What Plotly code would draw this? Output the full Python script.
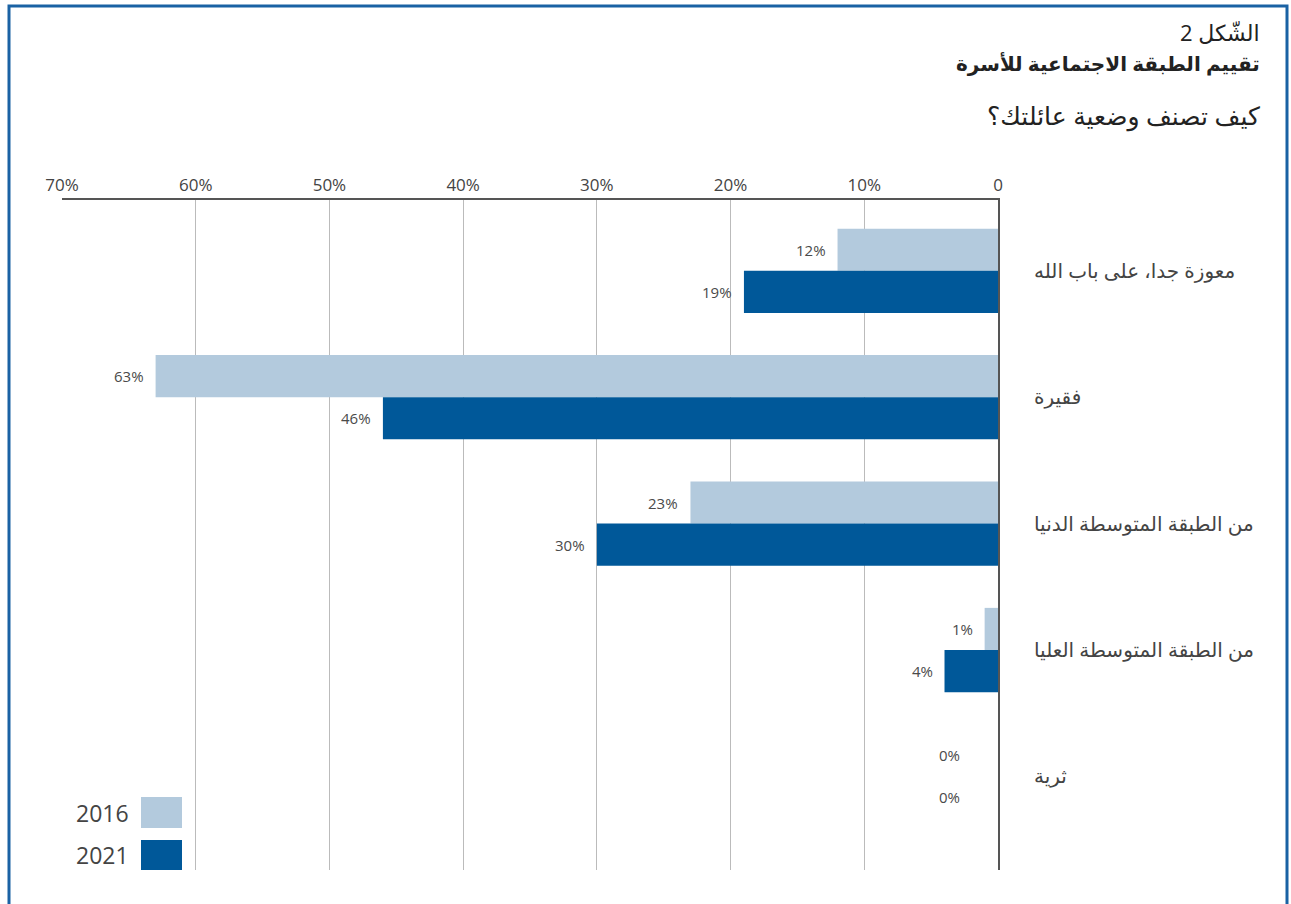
import plotly.graph_objects as go

categories = ["معوزة جدا، على باب الله", "فقيرة", "من الطبقة المتوسطة الدنيا",
              "من الطبقة المتوسطة العليا", "ثرية"]
values_2016 = [12, 63, 23, 1, 0]
values_2021 = [19, 46, 30, 4, 0]
series_names = ["2016", "2021"]
tick_vals = [0, 10, 20, 30, 40, 50, 60, 70]
tick_text = ["0", "10%", "20%", "30%", "40%", "50%", "60%", "70%"]

FONT = "Open Sans, Noto Sans, DejaVu Sans, sans-serif"
C16 = "#b3cadd"
C21 = "#005899"
TXT = "#444444"

fig = go.Figure()
for name, vals, col in [(series_names[0], values_2016, C16), (series_names[1], values_2021, C21)]:
    fig.add_trace(go.Bar(
        name=name, y=categories, x=vals, orientation="h",
        marker=dict(color=col, line=dict(width=0)),
        showlegend=False, hoverinfo="x+y+name",
    ))

# value labels to the left of each bar end
for vals, ysh in [(values_2016, 21), (values_2021, -21)]:
    for cat, v in zip(categories, vals):
        fig.add_annotation(x=v, y=cat, xref="x", yref="y", text=f"{v}%",
                           xanchor="right", yanchor="middle", showarrow=False,
                           xshift=-10 if v > 0 else -36, yshift=ysh,
                           font=dict(family=FONT, size=15, color="#4a4a4a"))

L, R, T, B = 62, 293, 200, 34
W, H = 1291, 904
pw, ph = W - L - R, H - T - B

def px(xp):
    return (xp - L) / pw

def py(yp):
    return (H - B - yp) / ph

fig.update_layout(
    width=W, height=H,
    margin=dict(l=L, r=R, t=T, b=B),
    paper_bgcolor="white", plot_bgcolor="white",
    barmode="group", bargap=0.333, bargroupgap=0,
    font=dict(family=FONT, color=TXT),
    xaxis=dict(
        side="top", range=[70, 0], tickvals=tick_vals, ticktext=tick_text,
        showgrid=True, gridcolor="#bbbbbb", gridwidth=1,
        showline=True, linecolor="#555555", linewidth=2,
        zeroline=False, ticks="", tickfont=dict(family=FONT, size=17, color=TXT),
        ticklabelstandoff=0,
    ),
    yaxis=dict(
        side="right", range=[4.74, -0.56], type="category",
        showgrid=False, showline=True, linecolor="#555555", linewidth=2,
        ticks="", tickfont=dict(family=FONT, size=20, color=TXT),
        ticklabelstandoff=30,
    ),
)

annots = [
    dict(text="الشّكل 2", y=32, size=22),
    dict(text="<b>تقييم الطبقة الاجتماعية للأسرة</b>", y=63, size=20),
    dict(text="كيف تصنف وضعية عائلتك؟", y=115, size=25),
]
for a in annots:
    fig.add_annotation(text=a["text"], x=px(1262), y=py(a["y"]), xref="paper", yref="paper",
                       xanchor="right", yanchor="middle", showarrow=False,
                       font=dict(family=FONT, size=a["size"], color="#222222"))

# custom legend
leg = [(series_names[0], C16, 797, 828), (series_names[1], C21, 840, 870)]
for name, col, y0, y1 in leg:
    fig.add_shape(type="rect", xref="paper", yref="paper",
                  x0=px(141), x1=px(182), y0=py(y1), y1=py(y0),
                  fillcolor=col, line=dict(width=0))
    fig.add_annotation(text=name, x=px(131), y=py((y0 + y1) / 2), xref="paper", yref="paper",
                       xanchor="right", yanchor="middle", showarrow=False,
                       font=dict(family=FONT, size=23, color=TXT))

# frame border
xl, xr, yt, yb = px(9), px(1287), py(6), py(910)
fig.add_shape(type="path", xref="paper", yref="paper",
              path=f"M {xl} {yb} L {xl} {yt} L {xr} {yt} L {xr} {yb}",
              line=dict(color="#1a62a4", width=3))

fig.write_html("out.html")
